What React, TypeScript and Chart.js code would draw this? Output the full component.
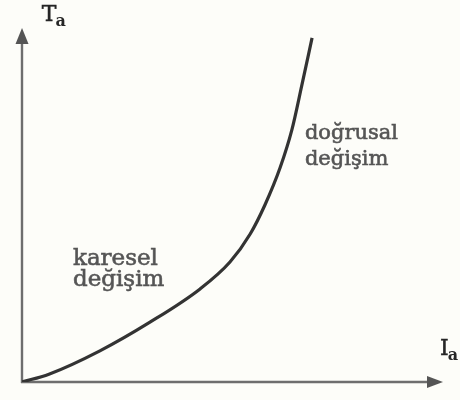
import { useEffect, useRef } from "react";
import { Chart, registerables } from "chart.js";

Chart.register(...registerables);

// Torque–current characteristic (arbitrary units)
const currentIa = [0, 0.64, 1.85, 3.04, 4.23, 4.94, 5.42, 5.77, 6.13, 6.41, 6.65, 6.89];
const torqueTa = [0, 0.22, 0.88, 1.69, 2.63, 3.39, 4.18, 5.0, 6.05, 7.12, 8.4, 9.72];

const X_MAX = 10;
const Y_MAX = 10;

// Region captions, anchored in data units (left edge x, baseline y)
const captionText = ["karesel", "değişim", "doğrusal", "değişim"];
const captionX = [1.21, 1.21, 6.72, 6.72];
const captionY = [3.31, 2.71, 6.86, 6.13];
const captionSize = [23, 23, 21, 21];

const axisLabels = [
  { main: "T", sub: "a", x: 0.47, y: 10.2 },
  { main: "I", sub: "a", x: 9.93, y: 0.75 },
];

const SERIF = "'DejaVu Serif', 'Liberation Serif', serif";

const arrowAxes = {
  id: "arrowAxes",
  beforeDatasetsDraw(chart: any) {
    const { ctx } = chart;
    const xs = chart.scales.x;
    const ys = chart.scales.y;
    const x0 = xs.getPixelForValue(0);
    const y0 = ys.getPixelForValue(0);
    const xEnd = xs.getPixelForValue(X_MAX);
    const yEnd = ys.getPixelForValue(Y_MAX);
    ctx.save();
    ctx.strokeStyle = "#6e6e6e";
    ctx.fillStyle = "#555555";
    ctx.lineWidth = 2.4;
    ctx.lineCap = "butt";
    ctx.beginPath();
    ctx.moveTo(x0, y0 + 1);
    ctx.lineTo(x0, yEnd + 14);
    ctx.moveTo(x0 - 1, y0);
    ctx.lineTo(xEnd - 14, y0);
    ctx.stroke();
    // arrowheads
    ctx.beginPath();
    ctx.moveTo(x0, yEnd);
    ctx.lineTo(x0 - 6.5, yEnd + 16);
    ctx.lineTo(x0 + 6.5, yEnd + 16);
    ctx.closePath();
    ctx.fill();
    ctx.beginPath();
    ctx.moveTo(xEnd, y0);
    ctx.lineTo(xEnd - 16, y0 - 6);
    ctx.lineTo(xEnd - 16, y0 + 6);
    ctx.closePath();
    ctx.fill();
    ctx.restore();
  },
  afterDatasetsDraw(chart: any) {
    const { ctx } = chart;
    const xs = chart.scales.x;
    const ys = chart.scales.y;
    ctx.save();
    ctx.textBaseline = "alphabetic";
    ctx.textAlign = "left";
    // axis names with subscripts
    ctx.fillStyle = "#262626";
    ctx.strokeStyle = "#262626";
    ctx.lineWidth = 0.5;
    for (const l of axisLabels) {
      const px = xs.getPixelForValue(l.x);
      const py = ys.getPixelForValue(l.y);
      ctx.font = `22px ${SERIF}`;
      ctx.fillText(l.main, px, py);
      ctx.strokeText(l.main, px, py);
      const w = ctx.measureText(l.main).width;
      ctx.font = `bold 16px ${SERIF}`;
      ctx.fillText(l.sub, px + w - 1, py + 5);
    }
    // region captions
    ctx.fillStyle = "#555555";
    ctx.strokeStyle = "#555555";
    ctx.lineWidth = 0.6;
    captionText.forEach((t, i) => {
      ctx.font = `${captionSize[i]}px ${SERIF}`;
      const px = xs.getPixelForValue(captionX[i]);
      const py = ys.getPixelForValue(captionY[i]);
      ctx.fillText(t, px, py);
      ctx.strokeText(t, px, py);
    });
    ctx.restore();
  },
};

export default function App() {
  const ref = useRef<HTMLCanvasElement | null>(null);

  useEffect(() => {
    if (!ref.current) return;
    const chart = new Chart(ref.current, {
      type: "scatter",
      data: {
        datasets: [
          {
            data: currentIa.map((v, i) => ({ x: v, y: torqueTa[i] })),
            showLine: true,
            borderColor: "#333333",
            borderWidth: 3.2,
            pointRadius: 0,
            cubicInterpolationMode: "monotone",
            fill: false,
          },
        ],
      },
      options: {
        responsive: false,
        animation: false,
        events: [],
        layout: { padding: { left: 22, top: 28, right: 17, bottom: 18 } },
        plugins: { legend: { display: false }, tooltip: { enabled: false } },
        scales: {
          x: { type: "linear", min: 0, max: X_MAX, display: false },
          y: { type: "linear", min: 0, max: Y_MAX, display: false },
        },
      },
      plugins: [arrowAxes],
    });
    return () => chart.destroy();
  }, []);

  return (
    <div style={{ position: "fixed", left: 0, top: 0, width: 460, height: 400, background: "#fdfdf9" }}>
      <canvas ref={ref} width={460} height={400} style={{ display: "block" }} />
    </div>
  );
}
